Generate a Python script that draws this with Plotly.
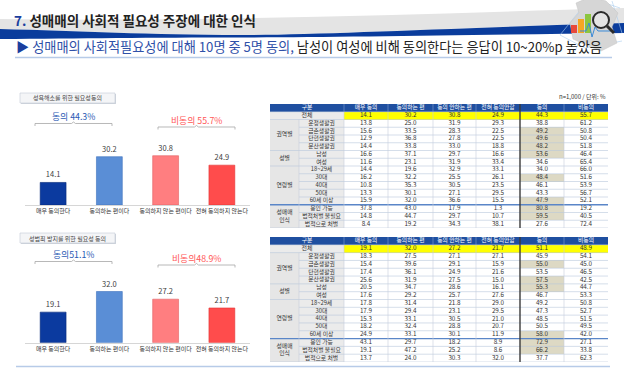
import plotly.graph_objects as go

W, H = 624, 370
FONT = "Noto Sans CJK KR"

# ---------------- data ----------------
title_num = "7."
title_text = "성매매의 사회적 필요성 주장에 대한 인식"
subtitle_blue = "성매매의 사회적필요성에 대해 10명 중 5명 동의,"
subtitle_black = " 남성이 여성에 비해 동의한다는 응답이 10~20%p 높았음"

categories = ["매우 동의한다", "동의하는 편이다", "동의하지 않는 편이다", "전혀 동의하지 않는다"]

chart1_title = "성욕해소를 위한 필요성동의"
chart1_values = [14.1, 30.2, 30.8, 24.9]
chart1_agree = "동의 44.3%"
chart1_disagree = "비동의 55.7%"

chart2_title = "성범죄 방지를 위한 필요성 동의"
chart2_values = [19.1, 32.0, 27.2, 21.7]
chart2_agree = "동의51.1%"
chart2_disagree = "비동의48.9%"

table_note = "n=1,000 / 단위: %"
table_corner = "구분"
table_columns = ["매우 동의", "동의하는 편", "동의 안하는 편", "전혀 동의안함", "동의", "비동의"]
group_labels = ["권역별", "성별", "연령별", "성매매<br>인식"]
group_sizes = [4, 2, 5, 3]
row_labels = ["전체", "운정생활권", "금촌생활권", "탄현생활권", "문산생활권", "남성", "여성",
              "18~29세", "30대", "40대", "50대", "60세 이상", "용인 가능", "법적처벌 불필요", "법적으로 처벌"]

t1_strong_agree = [14.1, 13.8, 15.6, 12.9, 14.4, 16.6, 11.6, 14.4, 16.2, 10.8, 13.3, 15.9, 37.8, 14.8, 8.4]
t1_agree_some = [30.2, 25.0, 33.5, 36.8, 33.8, 37.1, 23.1, 19.6, 32.2, 35.3, 30.1, 32.0, 43.0, 44.7, 19.2]
t1_disagree_some = [30.8, 31.9, 28.3, 27.8, 33.0, 29.7, 31.9, 32.9, 25.5, 30.5, 27.1, 36.6, 17.9, 29.7, 34.3]
t1_strong_disagree = [24.9, 29.3, 22.5, 22.5, 18.8, 16.6, 33.4, 33.1, 26.1, 23.5, 29.5, 15.5, 1.3, 10.7, 38.1]
t1_agree = [44.3, 38.8, 49.2, 49.6, 48.2, 53.6, 34.6, 34.0, 48.4, 46.1, 43.3, 47.9, 80.8, 59.5, 27.6]
t1_disagree = [55.7, 61.2, 50.8, 50.4, 51.8, 46.4, 65.4, 66.0, 51.6, 53.9, 56.7, 52.1, 19.2, 40.5, 72.4]
t1_highlight = ["금촌생활권", "탄현생활권", "문산생활권", "남성", "30대", "60세 이상", "용인 가능", "법적처벌 불필요"]

t2_strong_agree = [19.1, 18.3, 15.4, 17.4, 25.6, 20.5, 17.6, 17.8, 17.9, 15.3, 18.2, 24.9, 43.1, 19.1, 13.7]
t2_agree_some = [32.0, 27.5, 39.6, 36.1, 31.9, 34.7, 29.2, 31.4, 29.4, 33.1, 32.4, 33.1, 29.7, 47.2, 24.0]
t2_disagree_some = [27.2, 27.1, 29.1, 24.9, 27.5, 28.6, 25.7, 21.8, 23.1, 30.5, 28.8, 30.1, 18.2, 25.2, 30.3]
t2_strong_disagree = [21.7, 27.1, 15.9, 21.6, 15.0, 16.1, 27.6, 29.0, 29.5, 21.0, 20.7, 11.9, 8.9, 8.6, 32.0]
t2_agree = [51.1, 45.9, 55.0, 53.5, 57.5, 55.3, 46.7, 49.2, 47.3, 48.5, 50.5, 58.0, 72.9, 66.2, 37.7]
t2_disagree = [48.9, 54.1, 45.0, 46.5, 42.5, 44.7, 53.3, 50.8, 52.7, 51.5, 49.5, 42.0, 27.1, 33.8, 62.3]
t2_highlight = ["금촌생활권", "문산생활권", "남성", "60세 이상", "용인 가능", "법적처벌 불필요"]

# ---------------- style ----------------
bar_colors = ["#0b3a9f", "#5a8ed6", "#ff7e80", "#ff4c4c"]
bar_lines = ["#062a7a", "#3f72bd", "#e06062", "#e03434"]
col_edges = [0, 29, 74, 118, 163, 206, 250, 294, 338]


def px(x):
    return x / W


def py(y):
    return 1 - y / H


def P(x, y):
    return f"{px(x):.5f},{py(y):.5f}"


def note(x, y, text, size, color, xanchor="center"):
    return dict(x=px(x), y=py(y), xref="paper", yref="paper", xanchor=xanchor, yanchor="middle",
                showarrow=False, text=text, font=dict(family=FONT, size=size, color=color))


fig = go.Figure()
shapes = []
annotations = []

# ---------------- header decoration ----------------
grey_band = (f"M {P(0,19)} C {P(200,22)} {P(420,14)} {P(624,8)} L {P(624,23)} "
             f"C {P(450,28)} {P(320,35)} {P(240,35)} C {P(150,35)} {P(80,31)} {P(0,29)} Z")
blue_band = (f"M {P(0,29)} C {P(80,31)} {P(150,35)} {P(240,35)} C {P(320,35)} {P(450,28)} {P(624,23)} "
             f"L {P(624,33)} C {P(470,35)} {P(330,37.5)} {P(240,37.5)} C {P(150,37.5)} {P(80,38.5)} {P(0,39)} Z")
shapes.append(dict(type="path", path=grey_band, xref="paper", yref="paper",
                   fillcolor="#e4e4e4", line=dict(width=0), layer="below"))
shapes.append(dict(type="path", path=blue_band, xref="paper", yref="paper",
                   fillcolor="#0a3c9c", line=dict(width=0), layer="below"))

# icon (map, bars, magnifier)
dy = -7
net = [((560, 42), (590, 5)), ((590, 5), (620, 15)), ((560, 42), (585, 55)), ((585, 55), (622, 48)),
       ((600, 3), (575, 58)), ((612, 8), (622, 40))]
for (a, b) in net:
    shapes.append(dict(type="line", xref="paper", yref="paper", x0=px(a[0]), y0=py(a[1] + dy),
                       x1=px(b[0]), y1=py(b[1] + dy), line=dict(color="#a9cdef", width=0.6)))
map_pts = [(576, 10), (590, 4), (606, 8), (618, 20), (612, 34), (617, 50), (601, 58), (586, 52), (573, 46),
           (570, 30), (579, 20)]
map_path = "M " + " L ".join(P(x, y + dy) for x, y in map_pts) + " Z"
shapes.append(dict(type="path", path=map_path, xref="paper", yref="paper",
                   fillcolor="#d6d6d6", line=dict(color="#c4c4c4", width=0.5)))
for (x0, y0, x1, c) in [(571, 32, 577, "#e8493b"), (578, 26, 584, "#f5a623"), (585, 21, 591, "#8cc63e")]:
    shapes.append(dict(type="rect", xref="paper", yref="paper", x0=px(x0), y0=py(40 + dy), x1=px(x1),
                       y1=py(y0 + dy), fillcolor=c, line=dict(width=0)))
pulse_pts = [(580, 38), (586, 38), (589, 30), (592, 44), (595, 34), (598, 38), (612, 38)]
pulse = "M " + " L ".join(P(x, y + dy) for x, y in pulse_pts)
shapes.append(dict(type="path", path=pulse, xref="paper", yref="paper", line=dict(color="#3a8ad8", width=1)))
shapes.append(dict(type="circle", xref="paper", yref="paper", x0=px(593), y0=py(19 + dy), x1=px(609),
                   y1=py(35 + dy), fillcolor="rgba(255,255,255,0.35)", line=dict(color="#2b2b2b", width=2)))
shapes.append(dict(type="line", xref="paper", yref="paper", x0=px(607), y0=py(33 + dy), x1=px(614),
                   y1=py(40 + dy), line=dict(color="#2b2b2b", width=3)))

annotations.append(note(12, 19.5, f"<b><span style='color:#1b3e9e'>{title_num}</span> {title_text}</b>",
                        13.5, "#222222", "left"))
annotations.append(note(14, 46, (f"<span style='color:#1b3e9e'>▶</span> <span style='color:#2f50a8'>{subtitle_blue}</span>"
                                 f"{subtitle_black}"), 13.2, "#222222", "left"))
shapes.append(dict(type="line", xref="paper", yref="paper", x0=px(15), x1=px(612), y0=py(57.5), y1=py(57.5),
                   line=dict(color="#b7cbe8", width=1.5)))
shapes.append(dict(type="line", xref="paper", yref="paper", x0=px(16), x1=px(610), y0=py(366.5), y1=py(366.5),
                   line=dict(color="#b7cbe8", width=1.5)))

# ---------------- bar charts ----------------
SCALE = 1.6  # px per percent


def bar_chart(idx, values, box_text, agree_text, disagree_text, base_px, box_top, agree_y, dis_y):
    xa = "x" if idx == 1 else f"x{idx}"
    ya = "y" if idx == 1 else f"y{idx}"
    fig.add_trace(go.Bar(x=categories, y=values, xaxis=xa, yaxis=ya, width=0.46,
                         marker=dict(color=bar_colors, line=dict(color=bar_lines, width=0.6)),
                         text=[f"{v:.1f}" for v in values], textposition="outside",
                         textfont=dict(family=FONT, size=7.5, color="#404040"),
                         cliponaxis=False, hoverinfo="skip", showlegend=False))
    top_px = base_px - 65
    lay = {}
    lay[("xaxis" if idx == 1 else f"xaxis{idx}")] = dict(
        domain=[px(25), px(250)], anchor=ya, type="category", showline=True, linecolor="#d6d6d6",
        linewidth=1, ticks="", tickangle=0, showgrid=False, zeroline=False,
        tickfont=dict(family=FONT, size=6, color="#333333"), fixedrange=True)
    lay[("yaxis" if idx == 1 else f"yaxis{idx}")] = dict(
        domain=[py(base_px), py(top_px)], anchor=xa, range=[0, 65 / SCALE], visible=False, fixedrange=True)
    fig.update_layout(**lay)
    # label box
    shapes.append(dict(type="rect", xref="paper", yref="paper", x0=px(21), x1=px(116), y0=py(box_top + 1),
                       y1=py(box_top + 11), fillcolor="#cfd4dc", line=dict(width=0)))
    shapes.append(dict(type="rect", xref="paper", yref="paper", x0=px(20), x1=px(115), y0=py(box_top),
                       y1=py(box_top + 10), fillcolor="#f4f5f7", line=dict(color="#c3cad6", width=0.6)))
    annotations.append(note(67.5, box_top + 5, box_text, 6, "#444444"))
    # agree / disagree headers with brackets
    for (txt, cx, ty, x0, x1, col) in [(agree_text, 73, agree_y, 35, 112, "#2a5ab4"),
                                        (disagree_text, 196, dis_y, 158, 235, "#ff5757")]:
        annotations.append(note(cx, ty, txt, 8.8, col))
        by = ty + 7
        mid = (x0 + x1) / 2
        path = (f"M {P(x0,by+2.5)} L {P(x0,by)} L {P(mid-2,by)} L {P(mid,by-1.5)} L {P(mid+2,by)} "
                f"L {P(x1,by)} L {P(x1,by+2.5)}")
        shapes.append(dict(type="path", path=path, xref="paper", yref="paper",
                           line=dict(color="#a6a6a6", width=0.8)))


bar_chart(1, chart1_values, chart1_title, chart1_agree, chart1_disagree, 205, 93, 116.5, 120)
bar_chart(2, chart2_values, chart2_title, chart2_agree, chart2_disagree, 342.7, 233, 254.5, 258)

# ---------------- tables ----------------
colorscale = [[0.0, "#ffffff"], [0.2, "#ffff00"], [0.4, "#ddd9c4"], [0.6, "#e6e6e6"],
              [0.8, "#ebebeb"], [1.0, "#1f4fa0"]]


def table(idx, top_px, bottom_px, cols, highlight):
    xa, ya = f"x{idx}", f"y{idx}"
    nrows = len(row_labels) + 1
    z = []
    for r in range(nrows):
        row = []
        for c in range(8):
            if r == 0:
                v = 5
            elif r == 1:
                v = 4 if c < 2 else 1
            elif c == 0:
                v = 3
            elif c == 1:
                v = 4
            elif c == 6 and row_labels[r - 1] in highlight:
                v = 2
            else:
                v = 0
            row.append(v)
        z.append(row)
    fig.add_trace(go.Heatmap(x=col_edges, y=list(range(nrows + 1)), z=z, xaxis=xa, yaxis=ya,
                             colorscale=colorscale, zmin=0, zmax=5, showscale=False, hoverinfo="skip",
                             xgap=0, ygap=0))
    fig.update_layout(**{
        f"xaxis{idx}": dict(domain=[px(270), px(608)], anchor=ya, range=[0, col_edges[-1]], visible=False,
                            fixedrange=True),
        f"yaxis{idx}": dict(domain=[py(bottom_px), py(top_px)], anchor=xa, range=[nrows, 0], visible=False,
                            fixedrange=True),
    })
    xs, ys, ts, cs, ss = [], [], [], [], []

    def put(x, y, t, c="#333333", s=6.3):
        xs.append(x); ys.append(y); ts.append(t); cs.append(c); ss.append(s)

    centers = [(col_edges[i] + col_edges[i + 1]) / 2 for i in range(8)]
    put(col_edges[2] / 2, 0.5, table_corner, "#ffffff", 5.8)
    for j, name in enumerate(table_columns):
        put(centers[j + 2], 0.5, name, "#ffffff", 5.8)
    put(col_edges[2] / 2, 1.5, row_labels[0], "#333333", 6)
    for r, lab in enumerate(row_labels):
        if r > 0:
            put(centers[1], r + 1.5, lab, "#333333", 5.8)
        for j, col in enumerate(cols):
            put(centers[j + 2], r + 1.5, f"{col[r]:.1f}")
    start = 2
    for g, n in zip(group_labels, group_sizes):
        put(centers[0], start + n / 2, g, "#333333", 5.8)
        start += n
    fig.add_trace(go.Scatter(x=xs, y=ys, text=ts, mode="text", xaxis=xa, yaxis=ya, hoverinfo="skip",
                             showlegend=False, cliponaxis=False,
                             textfont=dict(family=FONT, size=ss, color=cs)))

    # grid lines
    boundaries = []
    s = 2
    for n in group_sizes:
        boundaries.append(s)
        s += n
    for k in range(2, nrows + 1):
        full = k in boundaries or k == nrows or k == 2
        x0 = 0 if full else col_edges[1]
        color, width = "#b9c8dc", 0.6
        if k == boundaries[-1]:
            color, width = "#5a86c8", 1.3
        shapes.append(dict(type="line", xref=xa, yref=ya, x0=x0, x1=col_edges[-1], y0=k, y1=k,
                           line=dict(color=color, width=width)))
    shapes.append(dict(type="line", xref=xa, yref=ya, x0=0, x1=col_edges[-1], y0=1, y1=1,
                       line=dict(color="#b9c8dc", width=0.6)))
    shapes.append(dict(type="line", xref=xa, yref=ya, x0=col_edges[1], x1=col_edges[1], y0=2, y1=nrows,
                       line=dict(color="#c6cfdc", width=0.6)))
    for i in range(2, 8):
        if i == 6:
            continue
        shapes.append(dict(type="line", xref=xa, yref=ya, x0=col_edges[i], x1=col_edges[i], y0=0, y1=1,
                           line=dict(color="#7f9fd0", width=0.6)))
        shapes.append(dict(type="line", xref=xa, yref=ya, x0=col_edges[i], x1=col_edges[i], y0=1, y1=nrows,
                           line=dict(color="#c6cfdc", width=0.6)))
    shapes.append(dict(type="line", xref=xa, yref=ya, x0=col_edges[6], x1=col_edges[6], y0=0, y1=nrows,
                       line=dict(color="#3a3a3a", width=1.4)))


table(3, 104, 228, [t1_strong_agree, t1_agree_some, t1_disagree_some, t1_strong_disagree, t1_agree, t1_disagree],
      t1_highlight)
table(4, 237, 362, [t2_strong_agree, t2_agree_some, t2_disagree_some, t2_strong_disagree, t2_agree, t2_disagree],
      t2_highlight)

annotations.append(note(608, 96.5, table_note, 6, "#333333", "right"))

fig.update_layout(width=W, height=H, margin=dict(l=0, r=0, t=0, b=0), paper_bgcolor="#ffffff",
                  plot_bgcolor="#ffffff", shapes=shapes, annotations=annotations, showlegend=False,
                  font=dict(family=FONT))
fig.write_html("out.html", config={"displayModeBar": False},
               post_script="document.body.style.margin='0';document.body.style.overflow='hidden';")
